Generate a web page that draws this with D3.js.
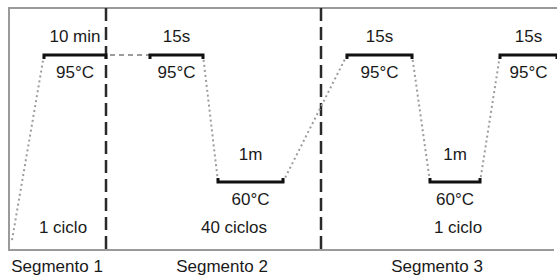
<!DOCTYPE html>
<html>
<head>
<meta charset="utf-8">
<script src="https://cdn.jsdelivr.net/npm/d3@7"></script>
<style>
  body { margin: 0; background: #fff; }
  text { font-family: "Liberation Sans", Arial, sans-serif; fill: #1a1a1a; }
</style>
</head>
<body>
<div id="wrapper"></div>
<script>
const width = 557,
    height = 278;

// temperature profile (time in arbitrary units, temperature in °C)
const holdStart = [7, 28.2, 67.6, 98.2];
const holdEnd = [19.4, 38.8, 80.6, 109.6];
const holdTemp = [95, 95, 95, 95];
const holdTime = ["10 min", "15s", "15s", "15s"];

const lowStart = [41.8, 84.2];
const lowEnd = [54.8, 94.2];
const lowTemp = [60, 60];
const lowTime = ["1m", "1m"];

// ramps between holds: [t, T]
const rampFrom = [[0.6, 44], [38.8, 95], [54.8, 60], [80.6, 95], [94.2, 60]];
const rampTo = [[7, 95], [41.8, 60], [67.6, 95], [84.2, 60], [98.2, 95]];
const linkFrom = [19.4, 95];
const linkTo = [28.2, 95];

const segBreaks = [19.4, 62.4];
const segNames = ["Segmento 1", "Segmento 2", "Segmento 3"];
const segCenters = [9.6, 42.6, 85.6];
const cycles = ["1 ciclo", "40 ciclos", "1 ciclo"];
const cycleCenters = [10.8, 45, 89.8];

const x = d3.scaleLinear().domain([0, 110]).range([9, 559]);
const y = d3.scaleLinear().domain([95, 60]).range([55, 182]);

const svg = d3.select("#wrapper")
    .append("svg")
    .attr("width", width)
    .attr("height", height);

const frameTop = 8, frameBottom = 250;

// frame
svg.append("path")
    .attr("d", `M${width},${frameTop}H${x(0)}V${frameBottom}H${width - 3}`)
    .attr("fill", "none")
    .attr("stroke", "#9a9a9a")
    .attr("stroke-width", 2);

// segment separators
svg.append("g").selectAll("line")
    .data(segBreaks)
    .enter().append("line")
    .attr("x1", d => x(d)).attr("x2", d => x(d))
    .attr("y1", frameTop).attr("y2", frameBottom + 2)
    .attr("stroke", "#2a2a2a")
    .attr("stroke-width", 2.5)
    .attr("stroke-dasharray", "13,6");

// ramps
svg.append("g").selectAll("line")
    .data(rampFrom.map((d, i) => [d, rampTo[i]]))
    .enter().append("line")
    .attr("x1", d => x(d[0][0])).attr("y1", d => y(d[0][1]))
    .attr("x2", d => x(d[1][0])).attr("y2", d => y(d[1][1]))
    .attr("stroke", "#9c9c9c")
    .attr("stroke-width", 2)
    .attr("stroke-dasharray", "2,3");

svg.append("line")
    .attr("x1", x(linkFrom[0]) + 4).attr("y1", y(linkFrom[1]))
    .attr("x2", x(linkTo[0])).attr("y2", y(linkTo[1]))
    .attr("stroke", "#9c9c9c")
    .attr("stroke-width", 2)
    .attr("stroke-dasharray", "5,4");

// holds
const holds = holdStart.map((d, i) => ({s: d, e: holdEnd[i], t: holdTemp[i], lab: holdTime[i], up: true}))
    .concat(lowStart.map((d, i) => ({s: d, e: lowEnd[i], t: lowTemp[i], lab: lowTime[i], up: false})));

svg.append("g").selectAll("path")
    .data(holds)
    .enter().append("path")
    .attr("d", d => {
        const h = d.up ? 4 : -4;
        return `M${x(d.s)},${y(d.t) + h}V${y(d.t)}H${x(d.e)}V${y(d.t) + h}`;
    })
    .attr("fill", "none")
    .attr("stroke", "#111")
    .attr("stroke-width", 3);

// duration labels
svg.append("g").selectAll("text")
    .data(holds)
    .enter().append("text")
    .attr("x", d => (x(d.s) + x(d.e)) / 2)
    .attr("y", d => y(d.t) + (d.up ? -13 : -22))
    .attr("text-anchor", "middle")
    .attr("font-size", 17)
    .text(d => d.lab);

// temperature labels
svg.append("g").selectAll("text")
    .data(holds)
    .enter().append("text")
    .attr("x", d => (x(d.s) + x(d.e)) / 2)
    .attr("y", d => y(d.t) + 23)
    .attr("text-anchor", "middle")
    .attr("font-size", 17)
    .text(d => d.t + "°C");

// cycles
svg.append("g").selectAll("text")
    .data(cycles)
    .enter().append("text")
    .attr("x", (d, i) => x(cycleCenters[i]))
    .attr("y", 233)
    .attr("text-anchor", "middle")
    .attr("font-size", 17)
    .text(d => d);

// segment names
svg.append("g").selectAll("text")
    .data(segNames)
    .enter().append("text")
    .attr("x", (d, i) => x(segCenters[i]))
    .attr("y", 272)
    .attr("text-anchor", "middle")
    .attr("font-size", 17)
    .text(d => d);
</script>
</body>
</html>
